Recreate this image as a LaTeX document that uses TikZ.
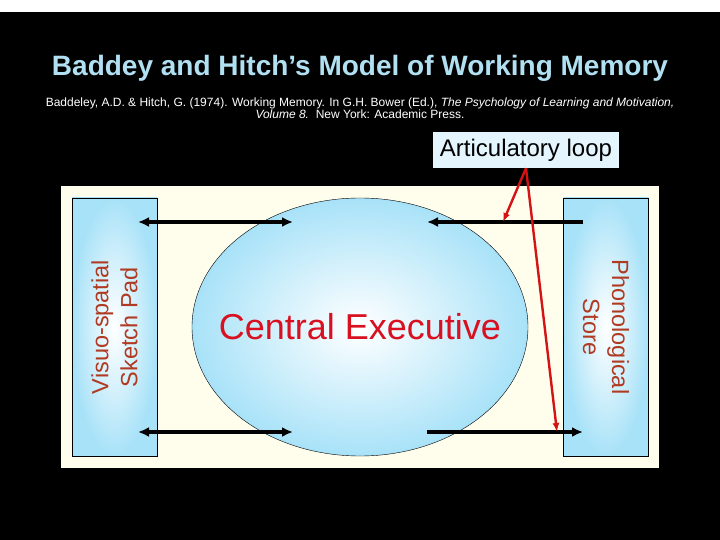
\documentclass[tikz,border=0pt]{standalone}
\usepackage{fontspec}
\setmainfont{Liberation Sans}
\usetikzlibrary{
    positioning,
    arrows.meta,
    shapes.geometric
    }

\definecolor{sky}{HTML}{A8E2F8}
\definecolor{cream}{HTML}{FFFDEB}
\definecolor{titleblue}{HTML}{B0E0F2}
\definecolor{boxred}{HTML}{B03A22}
\definecolor{cered}{HTML}{D81020}
\definecolor{labelfill}{HTML}{E4F5FE}
\definecolor{looped}{HTML}{D41414}

\begin{document}
\begin{tikzpicture}[x=1pt, y=-1pt]
\tikzset{panel/.style =
        {
            rectangle,
            fill=cream,
            inner sep=0pt,
            outer sep=0pt
        }
}

\tikzset{store/.style =
        {
            rectangle,
            draw=black,
            thin,
            inner color=white,
            outer color=sky,
            minimum width=85pt,
            minimum height=258pt,
            inner sep=0pt
        }
}

\tikzset{storetext/.style =
        {
            text=boxred,
            align=center,
            font=\fontsize{23.5}{29}\selectfont
        }
}

\tikzset{exec/.style =
        {
            shape=ellipse,
            draw=black,
            thin,
            inner color=white,
            outer color=sky,
            minimum width=336pt,
            minimum height=258pt,
            inner sep=0pt
        }
}

\tikzset{link/.style = {
            line width=3.4pt,
            black,
            line cap=butt
        }
}

\tikzset{loopline/.style = {
            line width=2.4pt,
            looped,
            -{Latex[length=9pt, width=7pt]}
        }
}

\useasboundingbox (0,0) rectangle (720,540);
\fill[white] (0,0) rectangle (720,12);
\fill[black] (0,12) rectangle (720,540);

% heading
\node[text=titleblue, font=\bfseries\fontsize{28}{32}\selectfont] (title) at (360,68)
    {Baddey and Hitch’s Model of Working Memory};
\node[text=white, align=center, font=\fontsize{12}{12.5}\selectfont] (cite) at (360,108)
    {Baddeley, A.D. \& Hitch, G. (1974). Working Memory. In G.H. Bower (Ed.), \textit{The Psychology of Learning and Motivation,}\\
     \textit{Volume 8.}\ \ New York: Academic Press.};

% the model
\node[panel, minimum width=598pt, minimum height=282pt] (panel) at (360,327) {};
\node[store] (vssp) at (114.5,327) {};
\node[store] (phon) at (606,327) {};
\node[exec] (ce) at (360,327) {};
\node[text=cered, font=\fontsize{36}{40}\selectfont] (ce-text) at (ce.center) {Central Executive};
\node[storetext, rotate=90] (vssp-text) at (vssp.center) {Visuo-spatial\\Sketch Pad};
\node[storetext, rotate=-90] (phon-text) at (phon.center) {Phonological\\Store};

\node[fill=labelfill, minimum width=186pt, minimum height=36pt, inner sep=0pt,
    font=\fontsize{24}{28}\selectfont] (loop) at (526,150) {Articulatory loop};

% arrow ends
\foreach \name / \x / \y in
    {vs-top/138/222, ce-tl/293/222, ce-tr/427/222, ps-top/583/222,
     vs-bot/138/432, ce-bl/293/432, ce-br/427/432, ps-bot/583/432,
     loop-top/503/222, loop-bot/557/432}
    \coordinate (\name) at (\x,\y);

\draw[link, {Latex[length=11pt, width=10pt]}-{Latex[length=11pt, width=10pt]}] (vs-top) -- (ce-tl);
\draw[link, {Latex[length=11pt, width=10pt]}-{Latex[length=11pt, width=10pt]}] (vs-bot) -- (ce-bl);
\draw[link, -{Latex[length=11pt, width=10pt]}] (ps-top) -- (ce-tr);
\draw[link, -{Latex[length=11pt, width=10pt]}] (ce-br) -- (ps-bot);

\foreach \finish in {loop-top, loop-bot}
    \draw[loopline] (loop.south) -- (\finish);

\end{tikzpicture}
\end{document}
